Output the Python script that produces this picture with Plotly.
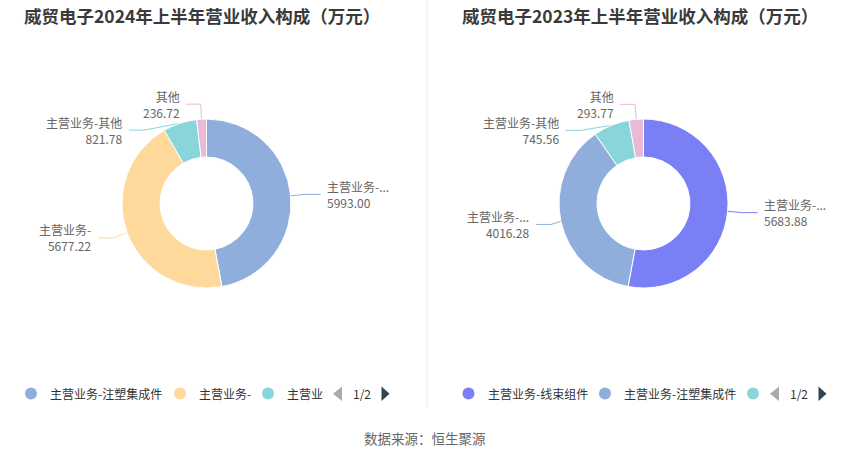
import math
import plotly.graph_objects as go

# ---- data ----
names_2024 = ["主营业务-注塑集成件", "主营业务-线束组件", "主营业务-其他", "其他"]
values_2024 = [5993.00, 5677.22, 821.78, 236.72]
labels_2024 = ["主营业务-...", "主营业务-", "主营业务-其他", "其他"]
colors_2024 = ["#8FAEDB", "#FFD99B", "#88D6D9", "#E9BAD8"]
legend_2024 = ["主营业务-注塑集成件", "主营业务-", "主营业"]

names_2023 = ["主营业务-线束组件", "主营业务-注塑集成件", "主营业务-其他", "其他"]
values_2023 = [5683.88, 4016.28, 745.56, 293.77]
labels_2023 = ["主营业务-...", "主营业务-...", "主营业务-其他", "其他"]
colors_2023 = ["#7B7FF6", "#8FAEDB", "#88D6D9", "#E9BAD8"]
legend_2023 = ["主营业务-线束组件", "主营业务-注塑集成件", ""]

title_2024 = "威贸电子2024年上半年营业收入构成（万元）"
title_2023 = "威贸电子2023年上半年营业收入构成（万元）"
source = "数据来源：恒生聚源"

W, H = 850, 459
R = 84.5
CY = 203.5
LEN1, LEN2, GAP, LABEL_H = 15, 15, 5, 26
FONT = "Noto Sans CJK SC"


def label_layout(values, cx, cy, r):
    """echarts-like outside label placement with leader lines."""
    total = sum(values)
    items = []
    cum = 0
    for v in values:
        a = (cum + v / 2) / total * 2 * math.pi
        cum += v
        dx, dy = math.sin(a), -math.cos(a)
        side = 1 if dx >= 0 else -1
        x2, y2 = cx + dx * (r + LEN1), cy + dy * (r + LEN1)
        items.append(dict(p1=(cx + dx * r, cy + dy * r), x2=x2, y=y2,
                          side=side, tx=x2 + side * (LEN2 + GAP)))
    for side in (-1, 1):
        grp = sorted([it for it in items if it["side"] == side], key=lambda it: it["y"])
        if len(grp) < 2:
            continue
        shifted = False
        last = -1e9
        for it in grp:
            top = it["y"] - LABEL_H / 2
            if top < last:
                it["y"] += last - top
                shifted = True
            last = it["y"] + LABEL_H / 2
        if not shifted:
            continue
        ra = r + LEN1
        for semi in ([it for it in grp if it["y"] <= cy], [it for it in grp if it["y"] > cy]):
            if not semi:
                continue
            far = max(semi, key=lambda it: abs(it["y"] - cy))
            fdy = abs(far["y"] - cy)
            fdx = far["tx"] - cx - LEN2 * side
            rb = math.sqrt(fdy ** 2 / (1 - fdx ** 2 / ra ** 2)) if abs(fdx) < ra else ra
            for it in semi:
                d = abs(it["y"] - cy)
                ndx = math.sqrt(max(0.0, 1 - d ** 2 / rb ** 2) * ra ** 2)
                it["tx"] = cx + (ndx + LEN2) * side
                x3 = it["tx"] - side * GAP
                it["x2"] = x3 - side * LEN2
    for it in items:
        it["x3"] = it["tx"] - it["side"] * GAP
    return items


fig = go.Figure()
annotations = []
shapes = []


def add_donut(names, values, labels, colors, cx):
    fig.add_trace(go.Pie(
        labels=names, values=values, hole=0.55, sort=False, direction="clockwise",
        rotation=0, textinfo="none", hoverinfo="label+value",
        marker=dict(colors=colors, line=dict(color="white", width=1)),
        domain=dict(x=[(cx - R) / W, (cx + R) / W], y=[1 - (CY + R) / H, 1 - (CY - R) / H]),
        showlegend=False,
    ))
    for it, lab, v, c in zip(label_layout(values, cx, CY, R), labels, values, colors):
        fig.add_trace(go.Scatter(
            x=[it["p1"][0], it["x2"], it["x3"]], y=[it["p1"][1], it["y"], it["y"]],
            mode="lines", line=dict(color=c, width=1), hoverinfo="skip", showlegend=False))
        anchor = "left" if it["side"] > 0 else "right"
        annotations.append(dict(x=it["tx"], y=it["y"], text="%s<br>%.2f" % (lab, v),
                                showarrow=False, align=anchor,
                                xanchor=anchor, yanchor="middle", borderpad=0,
                                font=dict(size=12, color="#666666", family=FONT)))


def add_legend(items, colors, x0, step_x):
    xs = x0
    for txt, c, dx in zip(items, colors, step_x):
        shapes.append(dict(type="circle", xref="x", yref="y", x0=xs - 6, x1=xs + 6,
                           y0=393.5 - 6, y1=393.5 + 6, fillcolor=c, line=dict(width=0)))
        if txt:
            annotations.append(dict(x=xs + 17, y=393.5, text=txt, showarrow=False,
                                    xanchor="left", yanchor="middle",
                                    font=dict(size=12, color="#333333", family=FONT)))
        xs += dx


def add_pager(xl):
    shapes.append(dict(type="path", xref="x", yref="y",
                       path=f"M {xl + 9} 386.5 L {xl + 9} 401 L {xl} 393.7 Z",
                       fillcolor="#AAAAAA", line=dict(width=0)))
    annotations.append(dict(x=xl + 29, y=393.5, text="1/2", showarrow=False,
                            xanchor="center", yanchor="middle",
                            font=dict(size=12, color="#333333", family=FONT)))
    xr = xl + 48.5
    shapes.append(dict(type="path", xref="x", yref="y",
                       path=f"M {xr} 386.5 L {xr} 401 L {xr + 8} 393.7 Z",
                       fillcolor="#2F4554", line=dict(width=0)))


add_donut(names_2024, values_2024, labels_2024, colors_2024, 206.5)
add_donut(names_2023, values_2023, labels_2023, colors_2023, 643.5)

add_legend(legend_2024, colors_2024[:3], 31, [149, 88, 0])
add_pager(333)
add_legend(legend_2023, colors_2023[:3], 468.5, [136.5, 148, 0])
add_pager(770)

for t, x in ((title_2024, 22), (title_2023, 460)):
    annotations.append(dict(x=x, y=15, text="<b>%s</b>" % t, showarrow=False,
                            xanchor="left", yanchor="middle",
                            font=dict(size=17.5, color="#3A3A3A", family=FONT)))
annotations.append(dict(x=425, y=438, text=source, showarrow=False, xanchor="center",
                        yanchor="middle", font=dict(size=13.5, color="#666666", family=FONT)))

shapes.append(dict(type="line", xref="x", yref="y", x0=427, x1=427, y0=0, y1=408,
                   line=dict(color="#EEEEEE", width=1), layer="below"))

fig.update_layout(
    width=W, height=H, margin=dict(l=0, r=0, t=0, b=0),
    paper_bgcolor="white", plot_bgcolor="white",
    xaxis=dict(range=[0, W], visible=False, fixedrange=True),
    yaxis=dict(range=[H, 0], visible=False, fixedrange=True),
    annotations=annotations, shapes=shapes, showlegend=False,
    font=dict(family=FONT),
)

fig.write_html("out.html", config={"displayModeBar": False},
               post_script="document.body.style.margin='0';")
